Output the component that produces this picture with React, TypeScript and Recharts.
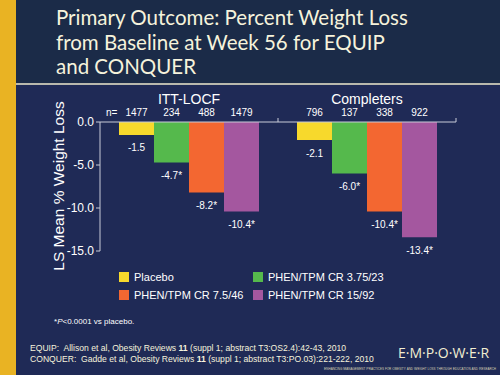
import React from "react";
import {
  BarChart,
  Bar,
  XAxis,
  YAxis,
  LabelList,
} from "recharts";

const GROUPS = ["ITT-LOCF", "Completers"];

const SERIES_NAMES = [
  "Placebo",
  "PHEN/TPM CR 3.75/23",
  "PHEN/TPM CR 7.5/46",
  "PHEN/TPM CR 15/92",
];

// LS mean % weight loss at week 56
const placebo = [-1.5, -2.1];
const low = [-4.7, -6.0];
const mid = [-8.2, -10.4];
const top = [-10.4, -13.4];

// n per arm
const nPlacebo = [1477, 796];
const nLow = [234, 137];
const nMid = [488, 338];
const nTop = [1479, 922];

const Y_TICKS = [0, -5, -10, -15];

const COLORS = ["#f7d92c", "#55b94c", "#f36731", "#a4579f"];
const BG = "#1f2a56";
const FONT = "'Liberation Sans', Arial, sans-serif";

const data = GROUPS.map((g, i) => ({
  group: g,
  placebo: placebo[i],
  low: low[i],
  mid: mid[i],
  top: top[i],
}));

const KEYS = ["placebo", "low", "mid", "top"];
const NS = [nPlacebo, nLow, nMid, nTop];

const CHART_W = 500;
const CHART_H = 375;
const MARGIN = { top: 82, right: 44, left: 40, bottom: 124 };
const Y_AXIS_W = 60;
const PLOT_TOP = MARGIN.top + 40;
const BAND = (CHART_W - MARGIN.left - Y_AXIS_W - MARGIN.right) / GROUPS.length;

function GroupTick(props: any) {
  const { x, payload, index } = props;
  return (
    <g>
      <text
        x={x}
        y={PLOT_TOP - 23}
        textAnchor="middle"
        dominantBaseline="central"
        fill="#ffffff"
        fontSize={14}
        fontFamily={FONT}
      >
        {payload.value}
      </text>
      {index === 0 && (
        <text
          x={x - BAND / 2 + 6}
          y={PLOT_TOP - 10}
          dominantBaseline="central"
          fill="#ffffff"
          fontSize={10}
          fontFamily={FONT}
        >
          n=
        </text>
      )}
      <line
        x1={x + BAND / 2}
        x2={x + BAND / 2}
        y1={PLOT_TOP}
        y2={PLOT_TOP - 4}
        stroke="#c9cbd8"
        strokeWidth={1}
      />
    </g>
  );
}

function YTitle() {
  return (
    <text
      x={58}
      y={186}
      transform="rotate(-90 58 186)"
      textAnchor="middle"
      dominantBaseline="central"
      fill="#ffffff"
      fontSize={15.5}
      fontFamily={FONT}
    >
      LS Mean % Weight Loss
    </text>
  );
}

const valueLabel = (star: boolean) => (props: any) => {
  const { x, y, width, height, value } = props;
  const bottom = Math.max(Number(y), Number(y) + Number(height));
  return (
    <text
      x={Number(x) + Number(width) / 2}
      y={bottom + 13}
      textAnchor="middle"
      dominantBaseline="central"
      fill="#ffffff"
      fontSize={10}
      fontFamily={FONT}
    >
      {`${Number(value).toFixed(1)}${star ? "*" : ""}`}
    </text>
  );
};

const nLabel = (ns: number[]) => (props: any) => {
  const { x, y, width, height, index } = props;
  const t = Math.min(Number(y), Number(y) + Number(height));
  return (
    <text
      x={Number(x) + Number(width) / 2}
      y={t - 10}
      textAnchor="middle"
      dominantBaseline="central"
      fill="#ffffff"
      fontSize={10}
      fontFamily={FONT}
    >
      {ns[index]}
    </text>
  );
};

function LegendItem({ color, label, left, topPx }: { color: string; label: string; left: number; topPx: number }) {
  return (
    <div style={{ position: "absolute", left, top: topPx, display: "flex", alignItems: "center" }}>
      <div style={{ width: 10, height: 10, background: color, marginRight: 5 }} />
      <span style={{ color: "#ffffff", fontSize: 11, fontFamily: FONT, whiteSpace: "nowrap" }}>{label}</span>
    </div>
  );
}

export default function App() {
  return (
    <div
      style={{
        position: "absolute",
        left: 0,
        top: 0,
        width: CHART_W,
        height: CHART_H,
        background: BG,
        overflow: "hidden",
      }}
    >
      {/* title band */}
      <div style={{ position: "absolute", left: 0, top: 0, width: 500, height: 83, background: "#1b2b48" }} />
      <div style={{ position: "absolute", left: 16, top: 83, width: 484, height: 2, background: "#b9b9ad" }} />
      <div style={{ position: "absolute", left: 0, top: 0, width: 16, height: 375, background: "#e9b323" }} />
      <div
        style={{
          position: "absolute",
          left: 56,
          top: 5,
          color: "#f6f3dc",
          fontFamily: "Lato, 'Open Sans', sans-serif",
          fontSize: 20.5,
          lineHeight: "24.5px",
        }}
      >
        Primary Outcome: Percent Weight Loss
        <br />
        from Baseline at Week 56 for EQUIP
        <br />
        and CONQUER
      </div>

      <div style={{ position: "absolute", left: 0, top: 0 }}>
        <BarChart
          width={CHART_W}
          height={CHART_H}
          data={data}
          margin={MARGIN}
          barCategoryGap={19}
          barGap={0}
        >
          <XAxis
            dataKey="group"
            orientation="top"
            height={40}
            axisLine={{ stroke: "#c9cbd8" }}
            tickLine={false}
            tick={<GroupTick />}
            interval={0}
          />
          <YAxis
            domain={[-15, 0]}
            ticks={Y_TICKS}
            width={Y_AXIS_W}
            tickFormatter={(v: number) => v.toFixed(1)}
            axisLine={{ stroke: "#c9cbd8" }}
            tickLine={{ stroke: "#c9cbd8" }}
            tickSize={4}
            tick={{ fill: "#ffffff", fontSize: 12, fontFamily: FONT }}
            label={<YTitle />}
          />
          {KEYS.map((k, i) => (
            <Bar key={k} dataKey={k} fill={COLORS[i]} isAnimationActive={false}>
              <LabelList dataKey={k} content={valueLabel(i > 0)} />
              <LabelList dataKey={k} content={nLabel(NS[i])} />
            </Bar>
          ))}
        </BarChart>
      </div>

      {/* legend */}
      <LegendItem color={COLORS[0]} label={SERIES_NAMES[0]} left={119} topPx={271} />
      <LegendItem color={COLORS[2]} label={SERIES_NAMES[2]} left={119} topPx={289} />
      <LegendItem color={COLORS[1]} label={SERIES_NAMES[1]} left={253} topPx={271} />
      <LegendItem color={COLORS[3]} label={SERIES_NAMES[3]} left={253} topPx={289} />

      {/* footnotes */}
      <div style={{ position: "absolute", left: 54, top: 317, color: "#ffffff", fontFamily: FONT, fontSize: 8 }}>
        *<i>P</i>&lt;0.0001 vs placebo.
      </div>
      <div style={{ position: "absolute", left: 30, top: 343, color: "#f6f3dc", fontFamily: FONT, fontSize: 8.6, lineHeight: "10.5px" }}>
        EQUIP:&nbsp; Allison et al, Obesity Reviews <b>11</b> (suppl 1; abstract T3:OS2.4):42-43, 2010
        <br />
        CONQUER:&nbsp; Gadde et al, Obesity Reviews <b>11</b> (suppl 1; abstract T3:PO.03):221-222, 2010
      </div>
      <div
        style={{
          position: "absolute",
          left: 398,
          top: 343,
          color: "#f3eed2",
          fontFamily: "'Open Sans', sans-serif",
          fontSize: 14,
          letterSpacing: 0,
          whiteSpace: "nowrap",
        }}
      >
        E·M·P·O·W·E·R
      </div>
      <div
        style={{
          position: "absolute",
          left: 300,
          top: 367,
          width: 196,
          textAlign: "right",
          color: "#d9d3b4",
          fontFamily: FONT,
          fontSize: 3.6,
          whiteSpace: "nowrap",
          fontVariant: "small-caps",
        }}
      >
        Enhancing Management Practices for Obesity and Weight loss through Education and Research
      </div>
    </div>
  );
}
